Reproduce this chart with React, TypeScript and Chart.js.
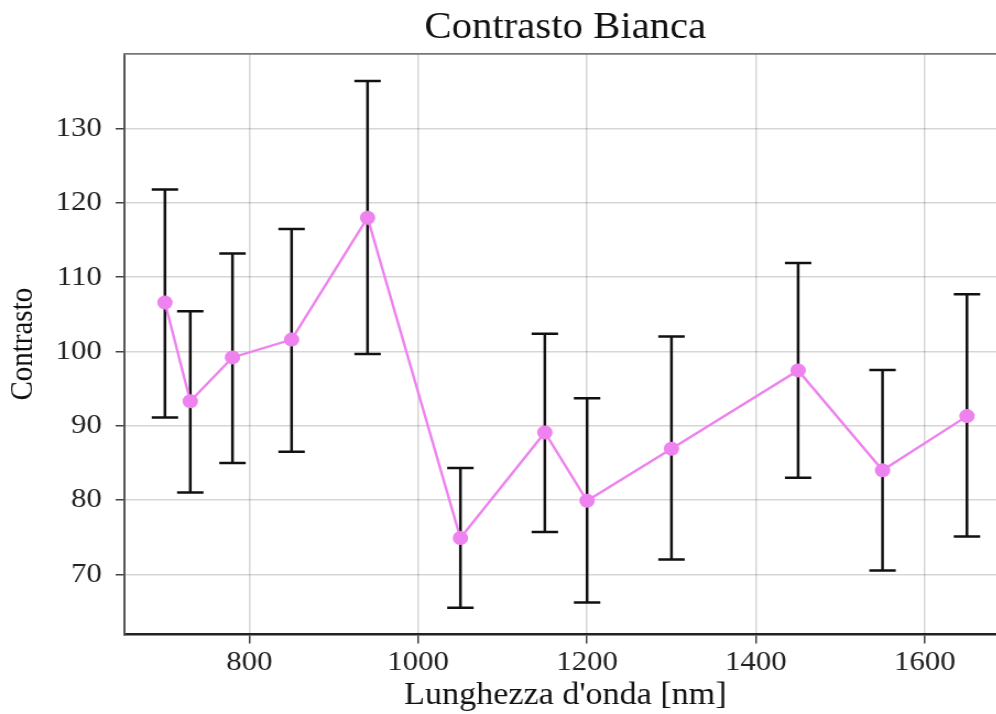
import React, { useEffect, useRef } from "react";
import { Chart, registerables } from "chart.js";

Chart.register(...registerables);

// ---- data ----
const wavelengths = [700, 730, 780, 850, 940, 1050, 1150, 1200, 1300, 1450, 1550, 1650];
const contrast = [106.6, 93.3, 99.2, 101.6, 118.0, 74.9, 89.1, 79.9, 86.9, 97.45, 84.0, 91.3];
const errUpper = [121.8, 105.4, 113.2, 116.5, 136.4, 84.3, 102.4, 93.7, 102.0, 111.9, 97.5, 107.7];
const errLower = [91.1, 81.0, 85.0, 86.5, 99.65, 65.5, 75.7, 66.2, 72.0, 83.0, 70.5, 75.1];
const xTicks = [800, 1000, 1200, 1400, 1600];
const yTicks = [70, 80, 90, 100, 110, 120, 130];

const titleText = "Contrasto Bianca";
const xLabel = "Lunghezza d'onda [nm]";
const yLabel = "Contrasto";

const SERIF = "'Liberation Serif', 'Times New Roman', serif";
const LINE_COLOR = "#EE82EE";

// horizontal stretch of the reference picture
const STRETCH = 1.10055;
const CANVAS_W = 921;
const CANVAS_H = 714;

const errorBarPlugin = {
  id: "errorBars",
  beforeDatasetsDraw(chart: any) {
    const { ctx } = chart;
    const xs = chart.scales.x;
    const ys = chart.scales.y;
    ctx.save();
    ctx.strokeStyle = "#111111";
    ctx.lineWidth = 2.5;
    ctx.lineCap = "butt";
    for (let i = 0; i < wavelengths.length; i++) {
      const x = xs.getPixelForValue(wavelengths[i]);
      const yt = ys.getPixelForValue(errUpper[i]);
      const yb = ys.getPixelForValue(errLower[i]);
      ctx.beginPath();
      ctx.moveTo(x, yt);
      ctx.lineTo(x, yb);
      ctx.stroke();
      ctx.beginPath();
      ctx.moveTo(x - 12, yt);
      ctx.lineTo(x + 12, yt);
      ctx.moveTo(x - 12, yb);
      ctx.lineTo(x + 12, yb);
      ctx.stroke();
    }
    ctx.restore();
  },
};

const topSpinePlugin = {
  id: "topSpine",
  afterDraw(chart: any) {
    const { ctx, chartArea } = chart;
    ctx.save();
    ctx.strokeStyle = "#777777";
    ctx.lineWidth = 1.6;
    ctx.beginPath();
    ctx.moveTo(chartArea.left - 1, chartArea.top);
    ctx.lineTo(chartArea.right + 2, chartArea.top);
    ctx.stroke();
    ctx.restore();
  },
};

export default function App() {
  const canvasRef = useRef<HTMLCanvasElement | null>(null);

  useEffect(() => {
    if (!canvasRef.current) return;
    const chart = new Chart(canvasRef.current, {
      type: "line",
      data: {
        datasets: [
          {
            data: wavelengths.map((w, i) => ({ x: w, y: contrast[i] })),
            borderColor: LINE_COLOR,
            backgroundColor: LINE_COLOR,
            borderWidth: 2.4,
            pointRadius: 7,
            pointBorderWidth: 0,
            pointBackgroundColor: LINE_COLOR,
            tension: 0,
            fill: false,
          },
        ],
      },
      options: {
        animation: false,
        responsive: false,
        maintainAspectRatio: false,
        layout: { padding: 0 },
        plugins: {
          legend: { display: false },
          tooltip: { enabled: false },
          title: {
            display: true,
            text: titleText,
            fullSize: false,
            color: "#111111",
            font: { family: SERIF, size: 37, weight: "normal" },
            padding: { top: 6, bottom: 3.5 },
          },
        },
        scales: {
          x: {
            type: "linear",
            min: 652,
            max: 1696.6,
            afterBuildTicks: (scale: any) => {
              scale.ticks = xTicks.map((v) => ({ value: v }));
            },
            afterFit: (scale: any) => {
              scale.height = 79.5;
            },
            ticks: {
              color: "#222222",
              font: { family: SERIF, size: 28 },
              padding: 2,
              maxRotation: 0,
              autoSkip: false,
              callback: (v: any) => String(v),
            },
            grid: {
              color: "rgba(0,0,0,0.16)",
              lineWidth: 1.5,
              tickColor: "#444444",
              tickLength: 9,
              tickWidth: 1.5,
            },
            border: { color: "#222222", width: 2.4 },
            title: {
              display: true,
              text: xLabel,
              color: "#111111",
              font: { family: SERIF, size: 31 },
              padding: { top: 0, bottom: 0 },
            },
          },
          y: {
            type: "linear",
            min: 61.9,
            max: 140.06,
            afterBuildTicks: (scale: any) => {
              scale.ticks = yTicks.map((v) => ({ value: v }));
            },
            afterFit: (scale: any) => {
              scale.width = 113;
            },
            ticks: {
              color: "#222222",
              font: { family: SERIF, size: 28 },
              padding: 12.5,
              autoSkip: false,
              callback: (v: any) => String(v),
            },
            grid: {
              color: "rgba(0,0,0,0.16)",
              lineWidth: 1.5,
              tickColor: "#444444",
              tickLength: 8,
              tickWidth: 1.5,
            },
            border: { color: "#555555", width: 2 },
            title: {
              display: true,
              text: yLabel,
              color: "#111111",
              font: { family: SERIF, size: 29 },
              padding: { top: 4.4, bottom: 0 },
            },
          },
        },
      } as any,
      plugins: [errorBarPlugin, topSpinePlugin],
    });
    return () => chart.destroy();
  }, []);

  return (
    <div
      style={{
        position: "fixed",
        left: 0,
        top: 0,
        width: "996px",
        height: "714px",
        overflow: "hidden",
        background: "#ffffff",
      }}
    >
      <canvas
        ref={canvasRef}
        width={CANVAS_W}
        height={CANVAS_H}
        style={{
          width: `${CANVAS_W * STRETCH}px`,
          height: `${CANVAS_H}px`,
          display: "block",
        }}
      />
    </div>
  );
}
